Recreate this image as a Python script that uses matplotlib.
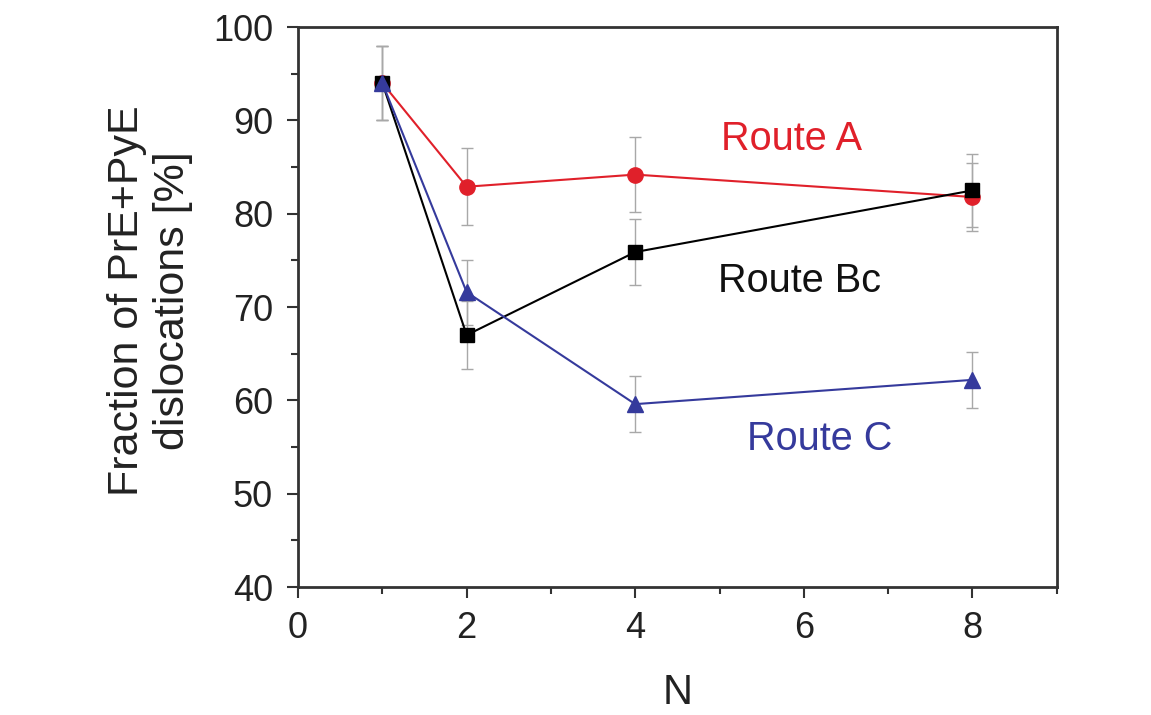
import matplotlib
matplotlib.use('Agg')
import matplotlib.pyplot as plt
from matplotlib.ticker import MultipleLocator

plt.rcParams['font.family'] = ['Liberation Sans', 'DejaVu Sans']

# Data
N = [1, 2, 4, 8]
route_a = [94.0, 82.9, 84.2, 81.8]
route_a_err = [4.0, 4.1, 4.0, 3.6]
route_bc = [94.0, 67.0, 75.9, 82.5]
route_bc_err = [4.0, 3.6, 3.5, 3.9]
route_c = [94.0, 71.6, 59.6, 62.2]
route_c_err = [4.0, 3.5, 3.0, 3.0]

red = '#e0202a'
blue = '#353a9c'
err_col = '#a8a8a8'

fig = plt.figure(figsize=(11.51, 7.15), dpi=100)
ax = fig.add_axes([0.259, 0.179, 0.659, 0.783])

# error bars first, below the lines
for y, e in [(route_a, route_a_err), (route_bc, route_bc_err), (route_c, route_c_err)]:
    ax.errorbar(N, y, yerr=e, fmt='none', ecolor=err_col, elinewidth=1.0,
                capsize=4, capthick=1.0, zorder=1)

ax.plot(N, route_a, '-o', color=red, lw=1.5, ms=11, zorder=2)
ax.plot(N, route_bc, '-s', color='black', lw=1.5, ms=10, zorder=3)
ax.plot(N, route_c, '-^', color=blue, lw=1.5, ms=12, zorder=4)

ax.text(5.86, 86.8, 'Route A', color=red, fontsize=28.5, ha='center', va='baseline')
ax.text(5.95, 71.6, 'Route Bc', color='#111111', fontsize=28.5, ha='center', va='baseline')
ax.text(6.19, 54.7, 'Route C', color=blue, fontsize=28.5, ha='center', va='baseline')

ax.set_xlim(0, 9)
ax.set_ylim(40, 100)
ax.xaxis.set_major_locator(MultipleLocator(2))
ax.xaxis.set_minor_locator(MultipleLocator(1))
ax.yaxis.set_major_locator(MultipleLocator(10))
ax.yaxis.set_minor_locator(MultipleLocator(5))
ax.tick_params(which='major', direction='out', length=8, width=1.5,
               labelsize=26, colors='#333333', labelcolor='#222222')
ax.tick_params(axis='x', which='major', pad=9)
ax.tick_params(axis='y', which='major', pad=10)
ax.tick_params(which='minor', direction='out', length=5, width=1.5, colors='#333333')
ax.tick_params(top=False, right=False, which='both')

for s in ax.spines.values():
    s.set_linewidth(2)
    s.set_color('#333333')

ax.set_xlabel('N', fontsize=30, color='#222222', labelpad=20)
ax.set_ylabel('Fraction of PrE+PyE\ndislocations [%]', fontsize=31,
              color='#222222', linespacing=1.2)
ax.yaxis.set_label_coords(-0.195, 0.511)
ax.yaxis.label.set_va('center')

fig.savefig('out.png', dpi=100)
